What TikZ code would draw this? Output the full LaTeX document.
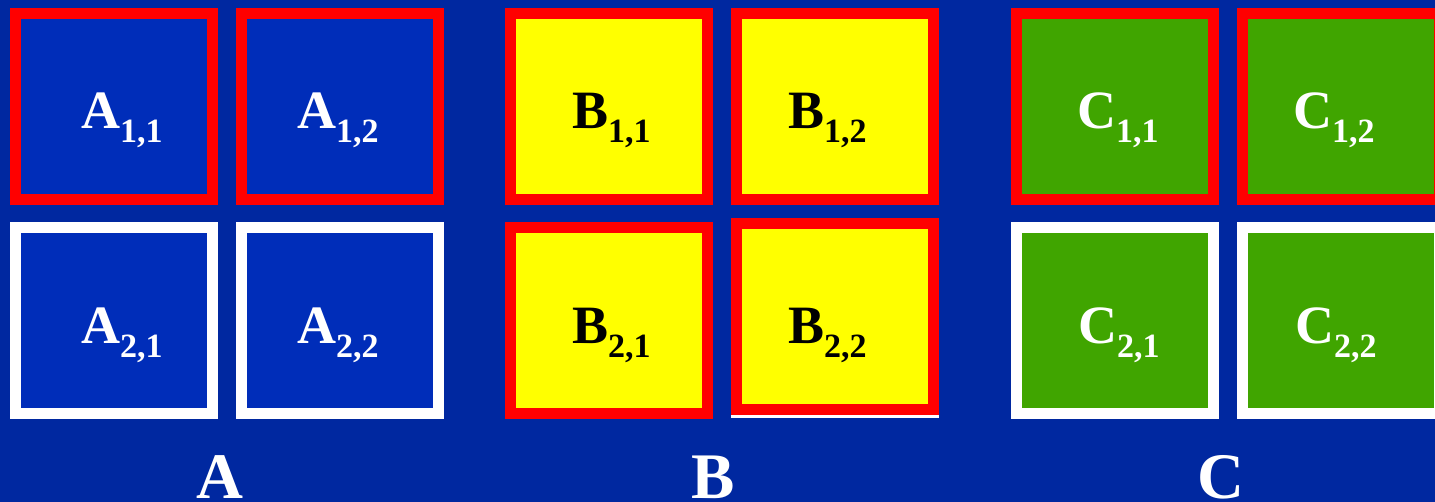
\documentclass[tikz,border=0pt]{standalone}
\usepackage{fontspec}
\setmainfont{Liberation Serif}
\definecolor{bgblue}{RGB}{0,40,160}
\definecolor{ablue}{RGB}{0,45,185}
\definecolor{cgreen}{RGB}{64,165,0}
\definecolor{byellow}{RGB}{255,255,0}
\definecolor{bred}{RGB}{255,0,0}
\newcommand\mysub[1]{\raisebox{-14pt}{\fontsize{34}{34}\selectfont #1}}
\tikzset{
  cell/.style={rectangle, inner sep=0pt, line width=11pt, minimum width=197pt, minimum height=186pt},
  lbl/.style={anchor=base west, inner sep=0pt, font=\bfseries\fontsize{54}{54}\selectfont},
  biglbl/.style={anchor=base, inner sep=0pt, text=white, font=\bfseries\fontsize{65}{65}\selectfont}
}
\begin{document}
\begin{tikzpicture}[x=1pt,y=-1pt]
\fill[bgblue] (0,0) rectangle (1435,502);
\useasboundingbox (0,0) rectangle (1435,502);
\clip (0,0) rectangle (1435,502);
% A
\node[cell, fill=ablue, draw=bred] (a11) at (114,106.5) {};
\node[cell, fill=ablue, draw=bred] (a12) at (340,106.5) {};
\node[cell, fill=ablue, draw=white] (a21) at (114,320.5) {};
\node[cell, fill=ablue, draw=white] (a22) at (340,320.5) {};
% B
\node[cell, fill=byellow, draw=bred] (b11) at (608.5,106.5) {};
\node[cell, fill=byellow, draw=bred] (b12) at (834.5,106.5) {};
\node[cell, fill=byellow, draw=bred] (b21) at (608.5,320.5) {};
\node[cell, fill=byellow, draw=white] (b22w) at (834.5,319.5) {};
\node[cell, fill=byellow, draw=bred] (b22) at (834.5,316.5) {};
% C
\node[cell, fill=cgreen, draw=bred] (c11) at (1115,106.5) {};
\node[cell, fill=cgreen, draw=bred] (c12) at (1341,106.5) {};
\node[cell, fill=cgreen, draw=white] (c21) at (1115,320.5) {};
\node[cell, fill=cgreen, draw=white] (c22) at (1341,320.5) {};
% cell labels
\node[lbl, text=white] (la11) at (81,129) {A\mysub{1,1}};
\node[lbl, text=white] (la12) at (297,129) {A\mysub{1,2}};
\node[lbl, text=white] (la21) at (81,344) {A\mysub{2,1}};
\node[lbl, text=white] (la22) at (297,344) {A\mysub{2,2}};
\node[lbl, text=black] (lb11) at (572,129) {B\mysub{1,1}};
\node[lbl, text=black] (lb12) at (788,129) {B\mysub{1,2}};
\node[lbl, text=black] (lb21) at (572,344) {B\mysub{2,1}};
\node[lbl, text=black] (lb22) at (788,344) {B\mysub{2,2}};
\node[lbl, text=white] (lc11) at (1077,129) {C\mysub{1,1}};
\node[lbl, text=white] (lc12) at (1293,129) {C\mysub{1,2}};
\node[lbl, text=white] (lc21) at (1078,344) {C\mysub{2,1}};
\node[lbl, text=white] (lc22) at (1295,344) {C\mysub{2,2}};
% matrix labels
\node[biglbl] (la) at (220,498) {A};
\node[biglbl] (lb) at (713,498) {B};
\node[biglbl] (lc) at (1221,498) {C};
\end{tikzpicture}
\end{document}
